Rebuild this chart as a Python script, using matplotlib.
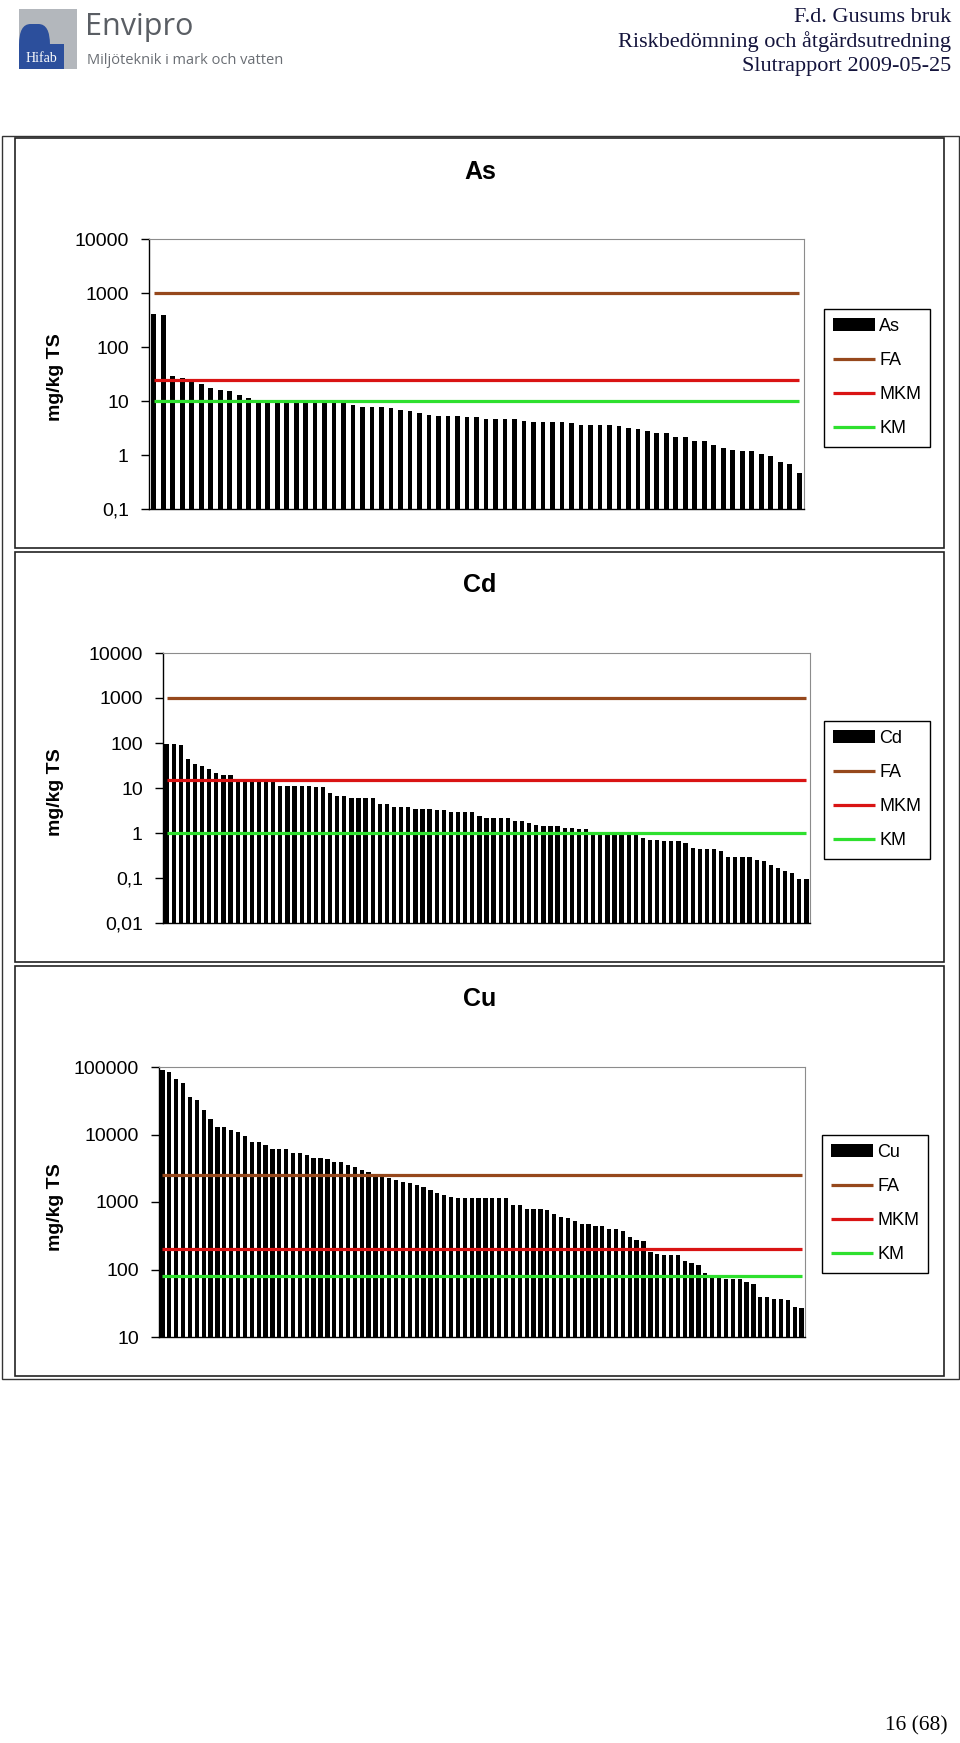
import matplotlib
matplotlib.use('Agg')
import matplotlib.pyplot as plt
from matplotlib.patches import Rectangle, FancyBboxPatch
from matplotlib.ticker import NullLocator
import numpy as np

plt.rcParams['font.family'] = ['Liberation Sans', 'DejaVu Sans']

# ---------------- data ----------------
limit_names = ['FA', 'MKM', 'KM']
limit_colors = ['#96481C', '#D91414', '#2EE02E']

as_values = [412, 385, 29, 27, 23, 21, 17.4, 16.2, 15.1, 13.1, 11.6,
             10, 10, 10, 10, 10, 10, 9.8, 9.8, 9, 9, 8.5, 7.9, 7.9, 7.9,
             7.5, 6.95, 6.5, 6.0, 5.6, 5.3, 5.3, 5.3, 5.0, 5.0,
             4.7, 4.7, 4.7, 4.7, 4.35, 4.0, 4.0, 4.0, 4.0, 3.84,
             3.63, 3.63, 3.63, 3.63, 3.38, 3.2, 2.97, 2.77, 2.58, 2.58,
             2.12, 2.12, 1.84, 1.84, 1.51, 1.35, 1.26, 1.17, 1.17, 1.03,
             0.96, 0.73, 0.68, 0.47]
as_limits = [1000, 25, 10]

cd_values = [95, 95, 90, 43, 35, 31, 27, 21.5, 19.8, 19.8, 15.3, 15.3, 15.3,
             13.3, 13.3, 13.3, 11.2, 11.2, 11.2, 11.2, 11.2, 10.3, 10.3,
             7.7, 6.5, 6.5, 6.0, 6.0, 6.0, 6.0, 4.3, 4.3, 3.7, 3.7, 3.7,
             3.4, 3.4, 3.4, 3.2, 3.2, 2.9, 2.9, 2.9, 2.9, 2.34,
             2.15, 2.15, 2.15, 2.15, 1.85, 1.85, 1.67, 1.53, 1.43, 1.43, 1.43,
             1.31, 1.31, 1.25, 1.24, 1.0, 0.98, 0.98, 0.98, 0.98, 0.92, 0.92,
             0.77, 0.71, 0.71, 0.65, 0.65, 0.65, 0.60, 0.47, 0.43, 0.43, 0.43,
             0.40, 0.29, 0.29, 0.29, 0.29, 0.255, 0.234, 0.198, 0.17, 0.143,
             0.131, 0.095, 0.095]
cd_limits = [1000, 15, 1]

cu_values = [89000, 83000, 67000, 57000, 36000, 32000, 23000, 17000, 13000,
             13000, 11700, 11000, 9500, 7700, 7700, 6900, 6200, 6200, 6200,
             5250, 5250, 5000, 4530, 4500, 4270, 3920, 3920, 3490, 3300, 2940,
             2780, 2540, 2390, 2270, 2140, 1980, 1930, 1760, 1670, 1490, 1340,
             1270, 1200, 1150, 1150, 1150, 1150, 1150, 1150, 1150, 1150,
             890, 890, 795, 795, 795, 750, 670, 605, 570, 517, 466, 466, 440,
             440, 398, 398, 376, 306, 276, 261, 182, 171, 162, 162, 162, 132,
             125, 118, 89, 84, 79, 73, 73, 73, 66, 62, 39, 39, 37, 36, 35, 28, 27]
cu_limits = [2500, 200, 80]

as_ticks = [0.1, 1, 10, 100, 1000, 10000]
as_ticklabels = ['0,1', '1', '10', '100', '1000', '10000']
cd_ticks = [0.01, 0.1, 1, 10, 100, 1000, 10000]
cd_ticklabels = ['0,01', '0,1', '1', '10', '100', '1000', '10000']
cu_ticks = [10, 100, 1000, 10000, 100000]
cu_ticklabels = ['10', '100', '1000', '10000', '100000']

ylabel_text = 'mg/kg TS'
header_lines = ['F.d. Gusums bruk', 'Riskbedömning och åtgärdsutredning',
                'Slutrapport 2009-05-25']
footer_text = '16 (68)'

# ---------------- figure ----------------
W, H = 960, 1743
fig = plt.figure(figsize=(W / 100, H / 100), dpi=100)


def fx(x):
    return x / W


def fy(y):
    return 1 - y / H


def rect_px(x0, y0, x1, y1, lw=1.0, ec='black', fc='none', **kw):
    r = Rectangle((fx(x0), fy(y1)), fx(x1) - fx(x0), fy(y0) - fy(y1),
                  transform=fig.transFigure, lw=lw, edgecolor=ec,
                  facecolor=fc, **kw)
    fig.add_artist(r)
    return r


# page frames
rect_px(1.5, 135.5, 958.5, 1378.5, lw=1.0, ec='#333333')
rect_px(15, 138, 944, 547.5, lw=1.2, ec='#222222')
rect_px(15, 552, 944, 961.5, lw=1.2, ec='#222222')
rect_px(15, 966, 944, 1375.5, lw=1.2, ec='#222222')

# header logo
rect_px(19, 9, 77, 69, lw=0, ec='none', fc='#b3b7bc')
blue = FancyBboxPatch((fx(19), fy(69)), fx(50) - fx(19), fy(24) - fy(69),
                      boxstyle='round,pad=0,rounding_size=0.012',
                      transform=fig.transFigure, facecolor='#2c4f9c',
                      edgecolor='none')
fig.add_artist(blue)
rect_px(19, 44, 64, 69, lw=0, ec='none', fc='#2c4f9c')
fig.text(fx(41), fy(58), 'Hifab', ha='center', va='center', color='white',
         family='Liberation Serif', fontsize=10)
fig.text(fx(85), fy(27), 'Envipro', ha='left', va='center', color='#5a5e64',
         family='Open Sans', fontsize=22)
fig.text(fx(87), fy(61), 'Miljöteknik i mark och vatten', ha='left',
         va='center', color='#6a6e74', family='Open Sans', fontsize=10.5)

for i, line in enumerate(header_lines):
    fig.text(fx(951), fy(17 + 25 * i), line, ha='right', va='center',
             family='Liberation Serif', fontsize=16, color='#14143c')

fig.text(fx(948), fy(1726), footer_text, ha='right', va='center',
         family='Liberation Serif', fontsize=15.5, color='black')


def chart(name, values, limits, box, ticks, ticklabels, title_y, ylabel_y,
          legend_xy, width):
    l, t, r, b = box
    ax = fig.add_axes([fx(l), fy(b), fx(r) - fx(l), fy(t) - fy(b)])
    ax.set_yscale('log')
    x = np.arange(len(values))
    bars = ax.bar(x, values, width=width, color='black', label=name, zorder=2)
    handles = [bars]
    for lab, val, col in zip(limit_names, limits, limit_colors):
        ln, = ax.plot([x[0], x[-1]], [val, val], color=col, lw=2.3, label=lab,
                      zorder=3, solid_capstyle='butt')
        handles.append(ln)
    ax.set_xlim(-0.5, len(values) - 0.5)
    ax.set_ylim(ticks[0], ticks[-1])
    ax.set_yticks(ticks)
    ax.set_yticklabels(ticklabels)
    ax.yaxis.set_minor_locator(NullLocator())
    ax.tick_params(axis='y', direction='out', length=5.5, width=1, pad=9,
                   labelsize=14)
    ax.tick_params(axis='x', bottom=False, labelbottom=False)
    for s in ['top', 'right']:
        ax.spines[s].set_color('#8c8c8c')
        ax.spines[s].set_linewidth(0.8)
    for s in ['left', 'bottom']:
        ax.spines[s].set_color('black')
        ax.spines[s].set_linewidth(1.0)
    fig.text(0.5, fy(title_y), name, ha='center', va='center', fontsize=18,
             fontweight='bold')
    fig.text(fx(56), fy(ylabel_y), ylabel_text, rotation=90, ha='center',
             va='center', fontsize=14, fontweight='bold')
    leg = ax.legend(handles=handles, labels=[name] + limit_names,
                    loc='upper left',
                    bbox_to_anchor=(fx(legend_xy[0]), fy(legend_xy[1])),
                    bbox_transform=fig.transFigure, frameon=True, fancybox=False,
                    edgecolor='black', framealpha=1, borderaxespad=0,
                    fontsize=13, handlelength=2.3, handletextpad=0.25,
                    labelspacing=0.95, borderpad=0.5)
    leg.get_frame().set_linewidth(1.0)
    return ax


chart('As', as_values, as_limits, (149, 239, 804, 509), as_ticks,
      as_ticklabels, 172, 377, (824, 309), 0.5)
chart('Cd', cd_values, cd_limits, (163, 653, 810, 923), cd_ticks,
      cd_ticklabels, 585, 792, (824, 721), 0.6)
chart('Cu', cu_values, cu_limits, (159, 1067, 805, 1337), cu_ticks,
      cu_ticklabels, 999, 1207, (822, 1135), 0.62)

fig.savefig('out.png', dpi=100, facecolor='white')
